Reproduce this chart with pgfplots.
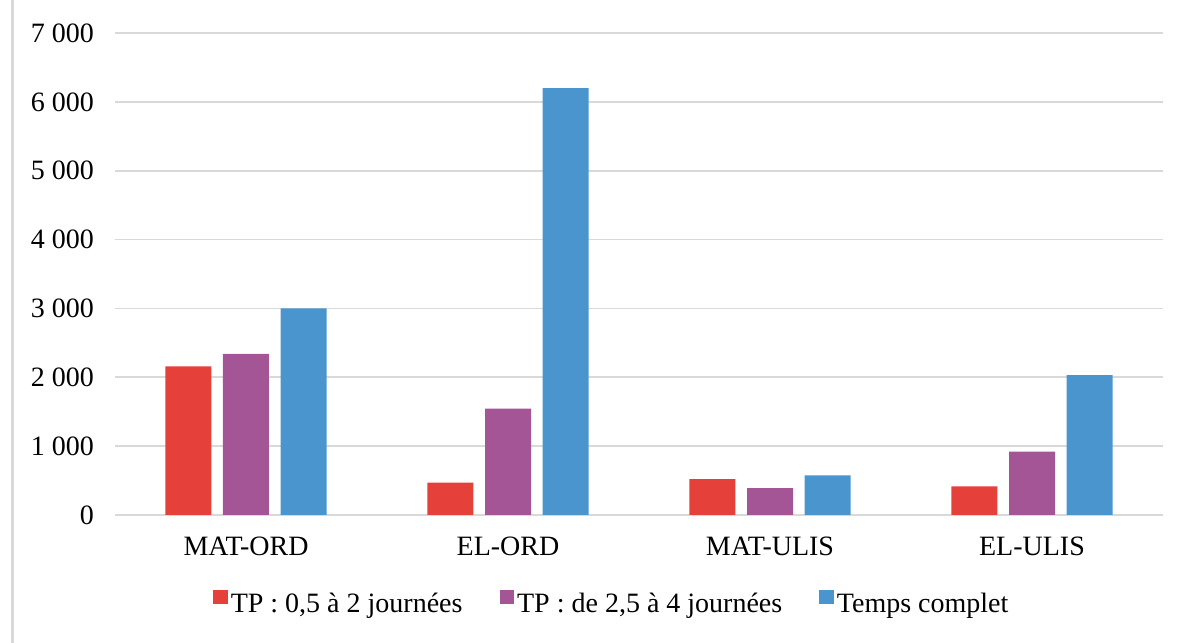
\documentclass[border=0pt]{standalone}
\usepackage{fontspec}
\setmainfont{Liberation Serif}
\usepackage{pgfplots}
\pgfplotsset{compat=1.18}
\definecolor{cred}{HTML}{E5413A}
\definecolor{cpur}{HTML}{A45596}
\definecolor{cblu}{HTML}{4A95CD}
\definecolor{cgrid}{HTML}{D9D9D9}
\begin{document}
\begin{tikzpicture}
\path[use as bounding box] (0,0) rectangle (590pt,321.5pt);
\draw[cgrid, line width=1.2pt] (6.25pt,0) -- (6.25pt,321.5pt);
\begin{axis}[
 at={(57.5pt,64pt)}, anchor=south west,
 scale only axis, width=524pt, height=241pt,
 xmin=-0.5, xmax=3.5, ymin=0, ymax=7000,
 ybar=5.8pt, bar width=23pt,
 axis line style={draw=none},
 major tick length=0pt,
 xtick={0,1,2,3}, xticklabels={MAT-ORD,EL-ORD,MAT-ULIS,EL-ULIS},
 ytick={0,1000,...,7000}, yticklabels={0,1 000,2 000,3 000,4 000,5 000,6 000,7 000},
 ymajorgrids, grid style={cgrid, line width=0.8pt},
 tick label style={font=\fontsize{14}{16.5}\selectfont, text=black},
 yticklabel style={xshift=-7pt},
 xticklabel style={yshift=-7.5pt},
 legend columns=3,
 legend style={at={(0.4745,-0.185)}, anchor=center, draw=none, font=\fontsize{14}{16.5}\selectfont,
   column sep=0pt, /tikz/every even column/.append style={column sep=17pt},
   nodes={inner xsep=1.5pt}},
 legend image code/.code={\fill[#1] (0pt,0pt) rectangle (7.3pt,7.3pt);},
]
\addplot[fill=cred, draw=none] coordinates {(0,2160) (1,470) (2,520) (3,415)};
\addplot[fill=cpur, draw=none] coordinates {(0,2340) (1,1545) (2,390) (3,920)};
\addplot[fill=cblu, draw=none] coordinates {(0,3000) (1,6200) (2,575) (3,2030)};
\legend{{TP~: 0,5 à 2 journées}, {TP~: de 2,5 à 4 journées}, {Temps complet}}
\end{axis}
\end{tikzpicture}
\end{document}
